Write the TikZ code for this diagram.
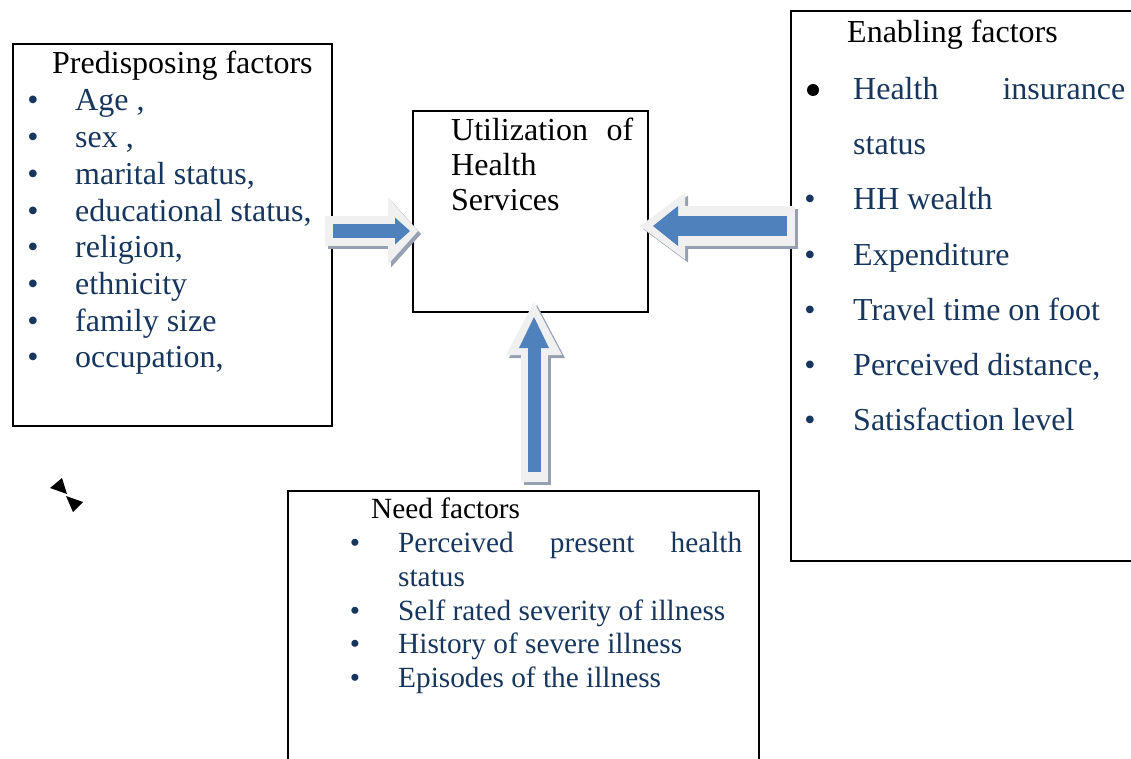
\documentclass[tikz,border=0pt]{standalone}
\usepackage{fontspec}
\setmainfont{Liberation Serif}
\usetikzlibrary{arrows.meta}
\definecolor{navy}{HTML}{17365D}
\definecolor{arrowblue}{HTML}{4F81BD}
\definecolor{glowgray}{HTML}{F0F0F0}
\definecolor{shadegray}{HTML}{97A0B2}
\tikzset{
  box/.style={draw, line width=2pt, anchor=north west, inner sep=0pt},
  heading/.style={anchor=base west, inner sep=0pt, font=\fontsize{32}{36}\selectfont},
  item/.style={anchor=base west, inner sep=0pt, text=navy, font=\fontsize{32}{36}\selectfont},
  dot/.style={anchor=base, inner sep=0pt, text=navy, font=\fontsize{32}{36}\selectfont},
  smalltext/.style={font=\fontsize{29.3}{34}\selectfont},
  fatarrow/.style n args={3}{line width=#1, -{Triangle[length=#2, width=#3, line width=0pt]}},
}
\begin{document}
\begin{tikzpicture}[x=1pt,y=-1pt]
  \useasboundingbox (0,0) rectangle (1131,759);

  % Boxes
  \node[box, minimum width=319pt, minimum height=382pt] (pre) at (12,43) {};
  \node[box, minimum width=235pt, minimum height=201pt] (use) at (412,110) {};
  \begin{scope}
    \clip (0,0) rectangle (1131,759);
    \node[box, minimum width=360pt, minimum height=550pt] (enb) at (790,10) {};
    \node[box, minimum width=471pt, minimum height=300pt] (need) at (287,490) {};
  \end{scope}

  % Utilization of health services
  \node[heading] (usel1) at (451,141) {\makebox[182pt][s]{Utilization of}};
  \node[heading] (usel2) at (451,176) {Health};
  \node[heading] (usel3) at (451,211) {Services};

  % Predisposing factors
  \node[heading] (prehead) at (52,74) {Predisposing factors};
  \foreach \txt [count=\i] in {{Age ,},{sex ,},{marital status,},{educational status,},{religion,},{ethnicity},{family size},{occupation,}} {
    \node[dot] (predot\i) at ({33},{111+36.7*(\i-1)}) {•};
    \node[item] (pre\i) at ({75},{111+36.7*(\i-1)}) {\txt};
  }

  % Enabling factors
  \node[heading] (enbhead) at (847,43) {Enabling factors};
  \fill (813,90) circle (6pt);
  \node[item] (enb1) at (853,100) {\makebox[272pt][s]{Health insurance}};
  \node[item] (enb1b) at (853,155) {status};
  \foreach \txt [count=\i from 2] in {{HH wealth},{Expenditure},{Travel time on foot},{Perceived distance,},{Satisfaction level}} {
    \node[dot] (enbdot\i) at ({810},{210+55*(\i-2)}) {•};
    \node[item] (enb\i) at ({853},{210+55*(\i-2)}) {\txt};
  }

  % Need factors
  \node[heading, smalltext] (needhead) at (371,518) {Need factors};
  \node[dot, smalltext] (needdot1) at (355,552) {•};
  \node[item, smalltext] (need1) at (398,552) {\makebox[344pt][s]{Perceived present health}};
  \node[item, smalltext] (need1b) at (398,586) {status};
  \foreach \txt [count=\i from 2] in {{Self rated severity of illness},{History of severe illness},{Episodes of the illness}} {
    \node[dot, smalltext] (needdot\i) at ({355},{620+33.7*(\i-2)}) {•};
    \node[item, smalltext] (need\i) at ({398},{620+33.7*(\i-2)}) {\txt};
  }

  % Block arrows into the centre box
  \coordinate (r0) at (325,231);
  \coordinate (r1) at (418,231);
  \coordinate (l0) at (795,226);
  \coordinate (l1) at (640,226);
  \coordinate (u0) at (534,482);
  \coordinate (u1) at (534,302);

  \draw[fatarrow={30pt}{30pt}{67pt}, shadegray] ([shift={(3,3)}]r0) -- ([shift={(3,3)}]r1);
  \draw[fatarrow={30pt}{30pt}{67pt}, glowgray] (r0) -- (r1);
  \draw[fatarrow={13pt}{15pt}{27pt}, arrowblue, shorten <=8pt, shorten >=8pt] (r0) -- (r1);

  \draw[fatarrow={40pt}{45pt}{67pt}, shadegray] ([shift={(3,3)}]l0) -- ([shift={(3,3)}]l1);
  \draw[fatarrow={40pt}{45pt}{67pt}, glowgray] (l0) -- (l1);
  \draw[fatarrow={20pt}{25pt}{40pt}, arrowblue, shorten <=8pt, shorten >=13pt] (l0) -- (l1);

  \draw[fatarrow={27pt}{53pt}{56pt}, shadegray] ([shift={(3,3)}]u0) -- ([shift={(3,3)}]u1);
  \draw[fatarrow={27pt}{53pt}{56pt}, glowgray] (u0) -- (u1);
  \draw[fatarrow={13pt}{31pt}{30pt}, arrowblue, shorten <=10pt, shorten >=15pt] (u0) -- (u1);

  % Small bow-tie mark
  \fill (50,488) -- (62,478) -- (67,494) -- cycle;
  \fill (66,496) -- (83,502) -- (73,512) -- cycle;
\end{tikzpicture}
\end{document}
